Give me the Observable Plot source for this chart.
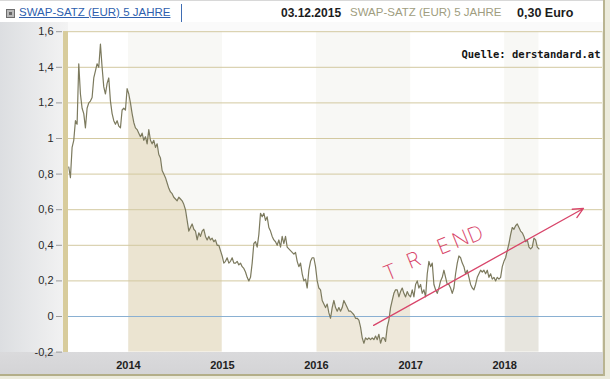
<!DOCTYPE html>
<html>
<head>
<meta charset="utf-8">
<script src="https://cdn.jsdelivr.net/npm/d3@7"></script>
<script src="https://cdn.jsdelivr.net/npm/@observablehq/plot@0.6"></script>
<style>
  html, body { margin: 0; padding: 0; background: #ecebdc; }
  #wrap { position: relative; width: 610px; height: 379px; overflow: hidden; background: #ecebdc; font-family: "Liberation Sans", Arial, sans-serif; }
  #header { position: absolute; left: 0; top: 0; width: 604px; height: 22px; background: #ffffff; border-top: 1px solid #d8d8d8; box-sizing: border-box; }
  #tab { position: absolute; left: 4px; top: 3px; width: 178px; height: 19px; border-bottom: 1px solid #3f6db3; border-right: 1px solid #3f6db3; box-sizing: border-box; }
  #icon { position: absolute; left: 6px; top: 8px; width: 9px; height: 9px; border: 1px solid #6d6d6d; background: #b9b9b9; box-sizing: border-box; }
  #icon::after { content: ""; position: absolute; left: 2px; top: 2px; width: 3px; height: 3px; background: #666; }
  #ttl { position: absolute; left: 19px; top: 5px; font-size: 11.5px; color: #2e5fae; text-decoration: underline; white-space: nowrap; }
  .hd { position: absolute; top: 5px; font-size: 12px; white-space: nowrap; }
  #date { left: 281px; font-weight: bold; color: #1c1c1c; }
  #gray { left: 350px; color: #a09d80; font-size: 11.5px; }
  #euro { left: 517px; font-weight: bold; color: #1c1c1c; font-size: 12.5px; }
  #topband { position: absolute; left: 0; top: 22px; width: 604px; height: 9px; background: #fafafa; }
  #leftbg { position: absolute; left: 0; top: 22px; width: 68px; height: 330px; background: linear-gradient(to right, #dcdee1, #f3f3f3); }
  #plotbg { position: absolute; left: 68px; top: 31px; width: 534px; height: 321px; background: #ffffff; }
  #bottombg { position: absolute; left: 0; top: 352px; width: 604px; height: 22px; background: linear-gradient(to bottom, #dadadc, #d4d4d6); }
  #bline { position: absolute; left: 0; top: 374px; width: 605px; height: 2px; background: #b3ae88; }
  #rline { position: absolute; left: 603px; top: 0; width: 2px; height: 376px; background: #b9b491; }
  #tanbar { position: absolute; left: 63px; top: 31px; width: 5px; height: 321px; background: #d8cc9c; }
  #chart { position: absolute; left: 0; top: 22px; }
</style>
</head>
<body>
<div id="wrap">
  <div id="header">
    <div id="tab"></div>
    <div id="icon"></div>
    <div id="ttl">SWAP-SATZ (EUR) 5 JAHRE</div>
    <div class="hd" id="date">03.12.2015</div>
    <div class="hd" id="gray">SWAP-SATZ (EUR) 5 JAHRE</div>
    <div class="hd" id="euro">0,30 Euro</div>
  </div>
  <div id="topband"></div>
  <div id="leftbg"></div>
  <div id="plotbg"></div>
  <div id="bottombg"></div>
  <div id="bline"></div>
  <div id="rline"></div>
  <div id="chart"></div>
  <div id="tanbar"></div>
</div>
<script>
// ---- data ----
// Swap rate samples, one every ~6.5 days starting 2013-05-14
const seriesStart = "2013-05-14";
const sampleStepDays = 6.476;
const rateValues = [
  0.84,0.78,0.95,0.99,1.10,1.08,1.42,1.25,1.17,1.14,
  1.06,1.17,1.20,1.21,1.23,1.34,1.38,1.42,1.40,1.53,
  1.40,1.29,1.25,1.31,1.34,1.21,1.14,1.10,1.08,1.10,
  1.07,1.06,1.16,1.17,1.16,1.28,1.25,1.20,1.14,1.09,
  1.06,1.05,1.03,1.01,1.03,0.99,1.01,0.97,1.05,0.99,
  0.97,0.99,0.95,0.97,0.91,0.89,0.82,0.80,0.78,0.75,
  0.72,0.70,0.69,0.67,0.66,0.65,0.67,0.66,0.65,0.63,
  0.60,0.54,0.48,0.50,0.52,0.49,0.48,0.43,0.47,0.45,
  0.48,0.49,0.45,0.43,0.45,0.43,0.44,0.42,0.43,0.40,
  0.40,0.37,0.34,0.30,0.31,0.33,0.30,0.31,0.33,0.30,
  0.30,0.31,0.29,0.30,0.28,0.27,0.25,0.22,0.20,0.22,
  0.30,0.41,0.42,0.39,0.46,0.58,0.56,0.58,0.54,0.56,
  0.50,0.48,0.45,0.43,0.42,0.40,0.43,0.39,0.45,0.41,
  0.45,0.39,0.38,0.37,0.36,0.35,0.36,0.31,0.28,0.30,
  0.24,0.20,0.21,0.16,0.26,0.31,0.33,0.33,0.28,0.20,
  0.16,0.15,0.09,0.07,0.05,0.07,0.02,-0.01,0.05,0.09,
  0.05,0.03,0.05,0.03,0.05,0.09,0.07,0.05,0.03,0.03,
  0.02,0.01,-0.01,-0.01,-0.02,-0.06,-0.12,-0.15,-0.12,-0.13,
  -0.12,-0.13,-0.12,-0.13,-0.11,-0.13,-0.10,-0.15,-0.12,-0.12,
  -0.14,-0.06,-0.02,0.05,0.09,0.13,0.15,0.15,0.11,0.14,
  0.16,0.13,0.11,0.14,0.12,0.11,0.15,0.11,0.18,0.20,
  0.16,0.18,0.13,0.15,0.11,0.24,0.31,0.28,0.30,0.18,
  0.15,0.13,0.16,0.20,0.22,0.26,0.22,0.18,0.18,0.16,
  0.13,0.16,0.24,0.30,0.34,0.33,0.30,0.28,0.24,0.26,
  0.22,0.18,0.16,0.15,0.18,0.22,0.24,0.26,0.25,0.26,
  0.24,0.26,0.22,0.24,0.21,0.22,0.20,0.22,0.21,0.22,
  0.28,0.31,0.33,0.37,0.41,0.46,0.50,0.49,0.51,0.52,
  0.50,0.48,0.47,0.45,0.42,0.43,0.39,0.38,0.39,0.44,
  0.43,0.39,0.38
];

const yTickValues = [-0.2, 0, 0.2, 0.4, 0.6, 0.8, 1, 1.2, 1.4, 1.6];
const yTickLabels = ["-0,2", "0", "0,2", "0,4", "0,6", "0,8", "1", "1,2", "1,4", "1,6"];
const gridValues = [0.2, 0.4, 0.6, 0.8, 1, 1.2, 1.4, 1.6];
const xTickDates = ["2014-01-01", "2015-01-01", "2016-01-01", "2017-01-01", "2018-01-01"];
const xTickLabels = ["2014", "2015", "2016", "2017", "2018"];

// shaded year columns
const bandStarts = ["2014-01-01", "2016-01-01", "2018-01-01"];
const bandEnds   = ["2015-01-01", "2017-01-01", "2018-12-31"];
const bandFills  = ["#ebe4d1", "#eee8da", "#e7e5de"];

// hand-drawn "TREND" annotation
const trendFrom = { date: "2016-08-10", value: -0.05 };
const trendTo   = { date: "2018-11-03", value: 0.607 };
const trendLetters = ["T", "R", "E", "N", "D"];
const trendLetterDates  = ["2016-10-15", "2017-01-12", "2017-05-09", "2017-07-14", "2017-09-10"];
const trendLetterValues = [0.247, 0.315, 0.393, 0.433, 0.46];

const sourceText = "Quelle: derstandard.at";

// ---- build tables ----
const t0 = new Date(seriesStart + "T00:00:00Z").getTime();
const series = rateValues.map((v, i) => ({ date: new Date(t0 + i * sampleStepDays * 864e5), value: v }));
const lastDate = series[series.length - 1].date;
const bands = bandStarts.map((s, i) => ({
  start: new Date(s + "T00:00:00Z"),
  end: i === bandStarts.length - 1 ? lastDate : new Date(bandEnds[i] + "T00:00:00Z"),
  fill: bandFills[i]
}));
const letters = trendLetters.map((l, i) => ({ text: l, date: new Date(trendLetterDates[i] + "T00:00:00Z"), value: trendLetterValues[i] }));
const trend = [{ x1: new Date(trendFrom.date + "T00:00:00Z"), y1: trendFrom.value, x2: new Date(trendTo.date + "T00:00:00Z"), y2: trendTo.value }];
const yMin = -0.2, yMax = 1.6;

const bandAreas = bands.map(b => Plot.areaY(
  series.filter(d => d.date >= b.start && d.date <= b.end),
  { x: "date", y1: () => yMin, y2: "value", fill: b.fill, curve: "linear" }
));

const chart = Plot.plot({
  width: 610,
  height: 352,
  marginLeft: 68,
  marginRight: 8,
  marginTop: 9.2,
  marginBottom: 22.4,
  style: { background: "transparent", fontFamily: "Liberation Sans, Arial, sans-serif", overflow: "visible" },
  x: { type: "utc", domain: [new Date("2013-05-13T00:00:00Z"), new Date("2019-01-16T00:00:00Z")] },
  y: { domain: [yMin, yMax] },
  marks: [
    Plot.rect(bands, { x1: "start", x2: "end", fill: "#f8f8f5" }),
    ...bandAreas,
    Plot.ruleY(gridValues, { stroke: "#d3c9a0", strokeWidth: 1 }),
    Plot.ruleY([0], { stroke: "#8ab0d2", strokeWidth: 1 }),
    Plot.line(series, { x: "date", y: "value", stroke: "#7c7a5e", strokeWidth: 1.2 }),
    Plot.arrow(trend, { x1: "x1", y1: "y1", x2: "x2", y2: "y2", stroke: "#d8456a", strokeWidth: 1.3, headLength: 13, headAngle: 50 }),
    Plot.text(letters, { x: "date", y: "value", text: "text", rotate: -22, fill: "#d8456a", fontSize: 21, fontWeight: 200, fontFamily: "Inter, DejaVu Sans, sans-serif" }),
    Plot.text([sourceText], { frameAnchor: "top-right", dx: -2, dy: 19, fontFamily: "DejaVu Sans Mono, monospace", fontWeight: "bold", fontSize: 10.5, fill: "#151515" }),
    Plot.axisY({ ticks: yTickValues, tickFormat: (d, i) => yTickLabels[i], tickSize: 6, tickPadding: 3, dx: -6, fontSize: 11, color: "#2a2a2a", stroke: "#9a9a9a", label: null }),
    Plot.axisX({ ticks: xTickDates.map(s => new Date(s + "T00:00:00Z")), tickFormat: (d, i) => xTickLabels[i], tickSize: 0, tickPadding: 9, fontSize: 11, fontWeight: "bold", color: "#222", label: null })
  ]
});
document.getElementById("chart").appendChild(chart);
</script>
</body>
</html>
